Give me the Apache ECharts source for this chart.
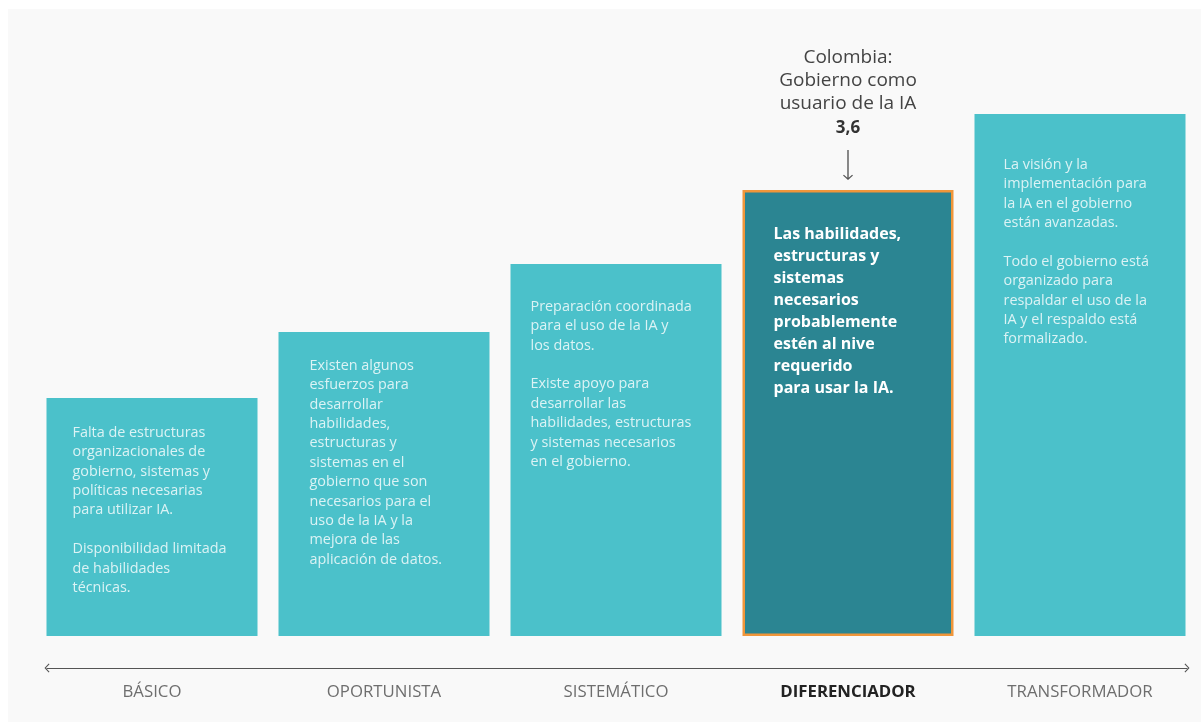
<!DOCTYPE html>
<html>
<head>
<meta charset="utf-8">
<script src="https://cdn.jsdelivr.net/npm/echarts@6/dist/echarts.min.js"></script>
<style>
  html, body { margin: 0; padding: 0; background: #ffffff; }
  #panel { position: absolute; left: 8px; top: 9px; width: 1193px; height: 713px; background: #f9f9f9; }
  #chart { position: absolute; left: 0; top: 0; width: 1201px; height: 722px; }
</style>
</head>
<body>
<div id="panel"></div>
<div id="chart"></div>
<script>
// ---- data ----
const categories = ['BÁSICO', 'OPORTUNISTA', 'SISTEMÁTICO', 'DIFERENCIADOR', 'TRANSFORMADOR'];
const levelHeights = [2.38, 3.04, 3.72, 4.46, 5.22];
const descriptions = [
  'Falta de estructuras\norganizacionales de\ngobierno, sistemas y\npolíticas necesarias\npara utilizar IA.\n\nDisponibilidad limitada\nde habilidades\ntécnicas.',
  'Existen algunos\nesfuerzos para\ndesarrollar\nhabilidades,\nestructuras y\nsistemas en el\ngobierno que son\nnecesarios para el\nuso de la IA y la\nmejora de las\naplicación de datos.',
  'Preparación coordinada\npara el uso de la IA y\nlos datos.\n\nExiste apoyo para\ndesarrollar las\nhabilidades, estructuras\ny sistemas necesarios\nen el gobierno.',
  'Las habilidades,\nestructuras y\nsistemas\nnecesarios\nprobablemente\nestén al nive\nrequerido\npara usar la IA.',
  'La visión y la\nimplementación para\nla IA en el gobierno\nestán avanzadas.\n\nTodo el gobierno está\norganizado para\nrespaldar el uso de la\nIA y el respaldo está\nformalizado.'
];
const highlightIndex = 3;
const annotationLines = ['Colombia:', 'Gobierno como', 'usuario de la IA'];
const annotationScore = '3,6';

// ---- styling ----
const FONT = '"Open Sans", Lato, sans-serif';
const lightColor = '#4bc1ca';
const darkColor = '#2b8592';
const labelOffsets = [[26, 25], [31, 24], [20, 33], [31, 33], [29, 41]];

const seriesData = levelHeights.map((v, i) => {
  const hi = i === highlightIndex;
  return {
    value: v,
    itemStyle: hi
      ? { color: darkColor, borderColor: '#f0963a', borderWidth: 2.5 }
      : { color: lightColor },
    label: {
      show: true,
      formatter: descriptions[i],
      position: labelOffsets[i],
      align: 'left',
      verticalAlign: 'top',
      fontFamily: FONT,
      fontSize: hi ? 16 : 14.4,
      lineHeight: hi ? 22 : 19.4,
      fontWeight: hi ? 'bold' : 'normal',
      color: hi ? '#ffffff' : 'rgba(255,255,255,0.8)'
    }
  };
});

const axisCategoryData = categories.map((c, i) => i === highlightIndex
  ? { value: c, textStyle: { fontWeight: 'bold', color: '#222222' } }
  : c);

const chevron = 'path://M4.5,0 L9,4.2 L8.2,5 L4.5,1.4 L0.8,5 L0,4.2 Z';
const downArrow = 'path://M4.4,0 L5.6,0 L5.6,27.6 L8.6,24.6 L9.4,25.4 L5,29.8 L0.6,25.4 L1.4,24.6 L4.4,27.6 Z';

const chart = echarts.init(document.getElementById('chart'));
chart.setOption({
  backgroundColor: 'transparent',
  animation: false,
  grid: [
    { left: 36, right: 5, top: 36, bottom: 86 },
    { left: 47, right: 14, top: 667, height: 1 }
  ],
  xAxis: [
    {
      type: 'category', gridIndex: 0, data: axisCategoryData,
      offset: 31,
      axisLine: { show: false }, axisTick: { show: false },
      axisLabel: { margin: 17, fontFamily: FONT, fontSize: 16.8, color: '#6e6e6e' }
    },
    {
      type: 'value', gridIndex: 1, min: 0, max: 1,
      axisLine: {
        show: true, symbol: [chevron, chevron], symbolSize: [9, 5],
        lineStyle: { color: '#555555', width: 1.2 }
      },
      axisTick: { show: false }, axisLabel: { show: false }, splitLine: { show: false }
    }
  ],
  yAxis: [
    { type: 'value', gridIndex: 0, min: 0, max: 6, show: false },
    { type: 'value', gridIndex: 1, show: false }
  ],
  series: [{
    type: 'bar',
    xAxisIndex: 0, yAxisIndex: 0,
    barWidth: 211,
    data: seriesData,
    markPoint: {
      symbol: downArrow,
      symbolSize: [10, 30],
      symbolOffset: [0, -25],
      itemStyle: { color: '#555555' },
      label: {
        show: true,
        position: 'top',
        distance: 9,
        align: 'center',
        formatter: annotationLines.map(l => '{a|' + l + '}').join('\n') + '\n{b|' + annotationScore + '}',
        rich: {
          a: { fontFamily: FONT, fontSize: 19, lineHeight: 23, color: '#444444', align: 'center' },
          b: { fontFamily: FONT, fontSize: 17, fontWeight: 'bold', lineHeight: 26, color: '#333333', align: 'center' }
        }
      },
      data: [{ coord: [highlightIndex, levelHeights[highlightIndex]] }]
    }
  }]
});
</script>
</body>
</html>
